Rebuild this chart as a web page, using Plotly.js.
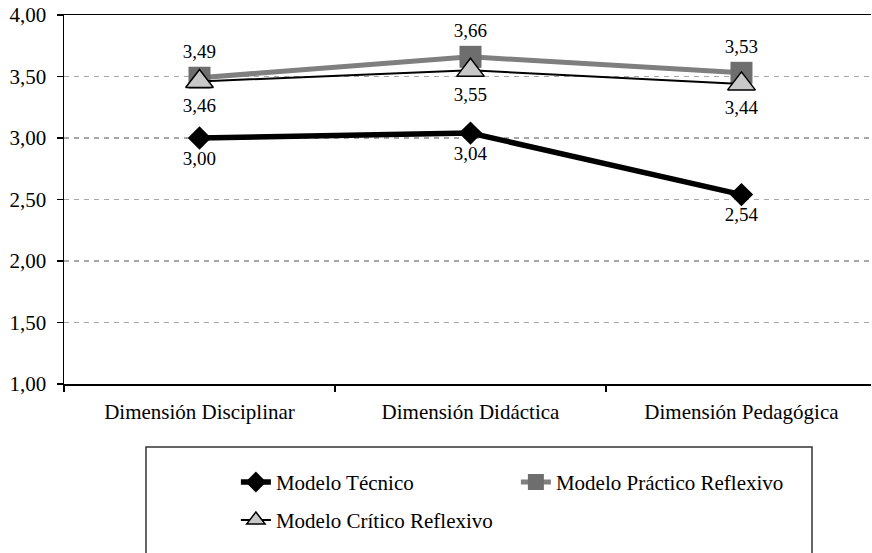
<!DOCTYPE html>
<html>
<head>
<meta charset="utf-8">
<script src="https://cdn.plot.ly/plotly-3.0.1.min.js"></script>
<style>
html,body{margin:0;padding:0;background:#fff;font-family:'Liberation Serif';}
#chart{width:872px;height:553px;}
svg text { font-family: 'Liberation Serif' !important; }
#probe{position:absolute;left:0;top:0;font-family:'Liberation Serif';font-size:1px;line-height:1px;pointer-events:none;}
</style>
</head>
<body>
<div id="chart"></div>
<div id="probe">&nbsp;</div>
<script>
const categories = ["Dimensión Disciplinar", "Dimensión Didáctica", "Dimensión Pedagógica"];
const tecnico = [3.00, 3.04, 2.54];
const practico = [3.49, 3.66, 3.53];
const critico = [3.46, 3.55, 3.44];
const yTicks = [1.0, 1.5, 2.0, 2.5, 3.0, 3.5, 4.0];
const seriesNames = ["Modelo Técnico", "Modelo Práctico Reflexivo", "Modelo Crítico Reflexivo"];

const fmt = v => v.toFixed(2).replace('.', ',');
const SERIF = 'Liberation Serif';

const traces = [
  {
    x: categories, y: practico, name: seriesNames[1], type: 'scatter', mode: 'lines+markers+text',
    line: {color: '#7f7f7f', width: 5},
    marker: {symbol: 'square', size: 22, color: '#6e6e6e', line: {width: 0}},
    text: practico.map(fmt), textposition: 'top center',
    textfont: {family: SERIF, size: 19, color: '#000'},
    legend: 'legend', cliponaxis: false
  },
  {
    x: categories, y: tecnico, name: seriesNames[0], type: 'scatter', mode: 'lines+markers+text',
    line: {color: '#000', width: 5.5},
    marker: {symbol: 'diamond', size: 18, color: '#000', line: {width: 0}},
    text: tecnico.map(fmt), textposition: 'bottom center',
    textfont: {family: SERIF, size: 19, color: '#000'},
    legend: 'legend', cliponaxis: false
  },
  {
    x: categories, y: critico, name: seriesNames[2], type: 'scatter', mode: 'lines+markers+text',
    line: {color: '#000', width: 2},
    marker: {symbol: 'triangle-up', size: 24, color: '#c8c8c8', line: {color: '#000', width: 1.5}},
    text: critico.map(fmt), textposition: 'bottom center',
    textfont: {family: SERIF, size: 19, color: '#000'},
    legend: 'legend2', cliponaxis: false
  }
];

const layout = {
  width: 872, height: 553,
  margin: {l: 64, r: 1, t: 15, b: 169},
  paper_bgcolor: '#fff', plot_bgcolor: '#fff',
  font: {family: SERIF, size: 21, color: '#000'},
  showlegend: true,
  xaxis: {
    type: 'category', range: [-0.5, 2.478],
    showline: true, linecolor: '#000', linewidth: 1.5, mirror: true,
    ticks: 'outside', tickson: 'boundaries', ticklen: 6, tickcolor: '#000', tickwidth: 1.5,
    showgrid: false, zeroline: false,
    ticklabelstandoff: 8,
    tickfont: {family: SERIF, size: 21, color: '#000'}
  },
  yaxis: {
    range: [1, 4], tickvals: yTicks, ticktext: yTicks.map(fmt),
    showline: true, linecolor: '#000', linewidth: 1.5,
    ticks: 'outside', ticklen: 6, tickcolor: '#000', tickwidth: 1.5,
    showgrid: true, gridcolor: '#a8a8a8', gridwidth: 1.2, griddash: '5px,5px',
    zeroline: false, ticklabelstandoff: 6,
    tickfont: {family: SERIF, size: 21, color: '#000'}
  },
  legend: {
    orientation: 'h', x: 0.213, xanchor: 'left', y: -0.211, yanchor: 'top',
    entrywidth: 235, entrywidthmode: 'pixels',
    bgcolor: 'rgba(0,0,0,0)', borderwidth: 0,
    font: {family: SERIF, size: 21, color: '#000'},
    traceorder: 'reversed'
  },
  legend2: {
    orientation: 'h', x: 0.213, xanchor: 'left', y: -0.314, yanchor: 'top',
    bgcolor: 'rgba(0,0,0,0)', borderwidth: 0,
    font: {family: SERIF, size: 21, color: '#000'}
  },
  shapes: [{
    type: 'rect', xref: 'paper', yref: 'paper',
    x0: 0.1016, x1: 0.9269, y0: -0.1707, y1: -0.6,
    line: {color: '#333', width: 1.5}, fillcolor: 'rgba(0,0,0,0)', layer: 'below'
  }]
};

const config = {displayModeBar: false, staticPlot: true};
Plotly.newPlot('chart', traces, layout, config);
if (document.fonts && document.fonts.ready) {
  document.fonts.ready.then(() => Plotly.react('chart', traces, layout, config));
}
</script>
</body>
</html>
